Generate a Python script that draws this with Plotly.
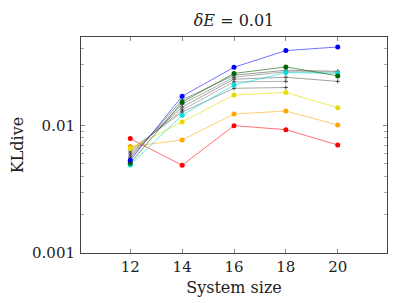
import plotly.graph_objects as go

sizes = [12, 14, 16, 18, 20]

red = [0.00787, 0.00487, 0.00994, 0.00925, 0.00702]
orange = [0.00682, 0.00768, 0.01227, 0.01294, 0.01006]
yellow = [0.00658, 0.0106, 0.01726, 0.0181, 0.01374]
cyan = [0.0049, 0.0120, 0.0207, 0.0259, 0.0255]
green = [0.00505, 0.0152, 0.0255, 0.0287, 0.0244]
blue = [0.00533, 0.0169, 0.0285, 0.0385, 0.0411]

gray1 = [0.00556, 0.0158, 0.0247, 0.0270, 0.0265]
gray2 = [0.00575, 0.01466, 0.0238, 0.0263, 0.0261]
gray3 = [0.00597, 0.0139, 0.0230, 0.0238, 0.0221]
gray4 = [0.00618, 0.0132, 0.0219, 0.0221, None]
gray5 = [0.00641, 0.0127, 0.0195, 0.0198, None]

y_ticks = [0.001, 0.01]
y_tick_labels = ["0.001", "0.01"]

fig = go.Figure()

grays = [gray1, gray2, gray3, gray4, gray5]
gray_cols = ["rgba(90,90,90,0.6)", "rgba(120,120,120,0.6)", "rgba(100,100,100,0.6)",
             "rgba(130,130,130,0.6)", "rgba(110,110,110,0.6)"]
for g, c in zip(grays, gray_cols):
    fig.add_trace(go.Scatter(x=sizes, y=g, mode="lines+markers",
                             line=dict(color=c, width=1),
                             marker=dict(symbol="cross-thin", size=3,
                                         line=dict(color="rgba(60,60,60,0.9)", width=1)),
                             showlegend=False))

series = [
    (red, "rgba(255,0,0,0.55)", "#ff0000"),
    (orange, "rgba(255,165,0,0.55)", "#ffa500"),
    (yellow, "rgba(230,220,0,0.6)", "#e6dc00"),
    (cyan, "rgba(0,220,220,0.6)", "#00dede"),
    (green, "rgba(0,100,0,0.6)", "#006400"),
    (blue, "rgba(0,0,255,0.55)", "#0000ff"),
]
for vals, lc, mc in series:
    fig.add_trace(go.Scatter(x=sizes, y=vals, mode="lines+markers",
                             line=dict(color=lc, width=1),
                             marker=dict(symbol="circle", size=5, color=mc),
                             showlegend=False))

font_family = "DejaVu Serif"
W, H = 391, 295  # page body has an 8px margin
fig.update_layout(
    width=W, height=H,
    margin=dict(l=73, r=12, t=29, b=50, autoexpand=False),
    paper_bgcolor="white", plot_bgcolor="white",
    font=dict(family=font_family, size=16, color="#222"),
    title=dict(text="<i>δE</i> = 0.01", x=0.5, xanchor="center",
               xref="paper", yref="container", y=1 - 12 / H, yanchor="middle",
               font=dict(family=font_family, size=16)),
    xaxis=dict(range=[10.1, 21.9], tickvals=sizes, ticks="inside", ticklen=4,
               tickcolor="#888", showline=True, linecolor="#444", linewidth=1,
               mirror="allticks", showgrid=False, zeroline=False,
               tickfont=dict(family=font_family, size=15),
               title=dict(text="System size", standoff=6,
                          font=dict(family=font_family, size=16))),
    yaxis=dict(type="log", range=[-3, -1.308], tickvals=y_ticks, ticktext=y_tick_labels,
               ticks="inside", ticklen=4, tickcolor="#888", ticklabelstandoff=2,
               tickfont=dict(family=font_family, size=15),
               minor=dict(ticks="inside", ticklen=3, tickcolor="#aaa",
                          tickvals=[0.002, 0.003, 0.004, 0.005, 0.006, 0.007, 0.008, 0.009,
                                    0.02, 0.03, 0.04]),
               showline=True, linecolor="#444", linewidth=1, mirror="allticks",
               showgrid=False, zeroline=False,
               title=dict(text="KLdive", standoff=10,
                          font=dict(family=font_family, size=16))),
)

fig.write_html("out.html")
